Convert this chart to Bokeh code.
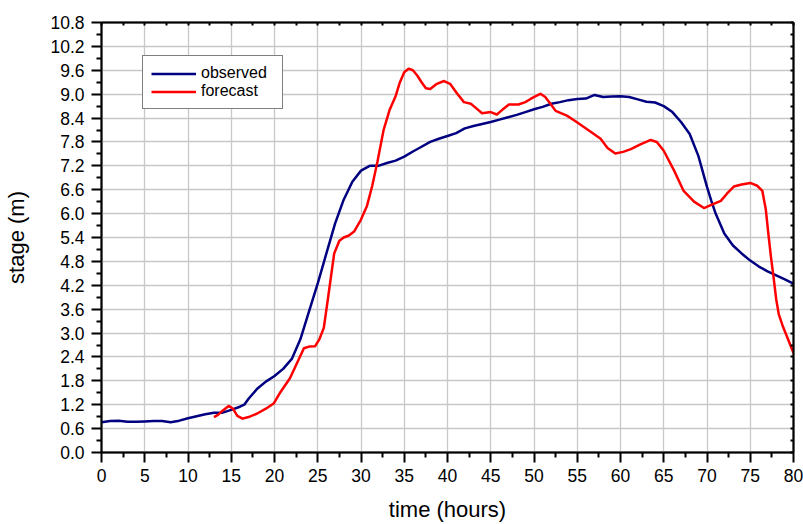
from bokeh.plotting import figure
from bokeh.models import LinearAxis, FixedTicker, PrintfTickFormatter
from bokeh.embed import file_html
from bokeh.resources import INLINE

# ---- data ----
obs_t = [0, 1, 2, 3, 4, 5, 6, 7, 8, 9, 10, 11, 12, 13, 14, 15, 16, 16.5, 17, 18, 19, 20,
         21, 22, 23, 24, 25, 26, 27, 28, 29, 30, 31, 32, 33, 34, 35, 36, 37, 38, 39, 40,
         41, 42, 43, 44, 45, 46, 47, 48, 49, 50, 51, 52, 53, 54, 55, 56, 57, 58, 59, 60,
         61, 62, 63, 64, 65, 66, 67, 68, 69, 70, 70.5, 71, 72, 73, 74, 75, 76, 77, 78, 79, 80]
obs_v = [0.76, 0.79, 0.80, 0.77, 0.77, 0.78, 0.79, 0.79, 0.76, 0.80, 0.86, 0.91, 0.96, 1.00,
         1.00, 1.07, 1.15, 1.20, 1.35, 1.60, 1.78, 1.92, 2.10, 2.35, 2.85, 3.55, 4.25, 5.00,
         5.75, 6.35, 6.80, 7.08, 7.20, 7.20, 7.27, 7.33, 7.43, 7.56, 7.68, 7.80, 7.88, 7.95,
         8.02, 8.14, 8.20, 8.25, 8.30, 8.36, 8.42, 8.48, 8.55, 8.62, 8.68, 8.76, 8.80, 8.85,
         8.88, 8.89, 8.98, 8.93, 8.94, 8.95, 8.93, 8.87, 8.81, 8.79, 8.70, 8.55, 8.30, 8.00,
         7.45, 6.67, 6.32, 6.00, 5.50, 5.20, 5.00, 4.82, 4.67, 4.55, 4.45, 4.35, 4.24]

fc_t = [13, 13.5, 14, 14.7, 15.2, 15.7, 16.3, 17, 18, 19, 19.9, 20.7, 21.8, 22.5, 23.4, 24,
        24.7, 25.2, 25.7, 26.2, 26.9, 27.5, 28, 28.6, 29.2, 30, 30.7, 31.3, 31.9, 32.6, 33.3,
        34, 34.5, 35, 35.5, 36, 36.5, 37, 37.5, 38, 38.7, 39.6, 40.3, 41, 41.9, 42.7, 43.3,
        44, 45, 45.7, 46.3, 47.1, 48.2, 49, 49.6, 50.2, 50.75, 51.3, 51.9, 52.5, 53.8, 54.8,
        55.8, 56.8, 57.7, 58.5, 59.4, 60.3, 61.2, 62.3, 63.5, 64.2, 65, 66.2, 67.3, 68.5,
        69.65, 70.5, 71.6, 72.3, 73.1, 74, 75, 75.8, 76.4, 76.8, 77.1, 77.4, 77.7, 78, 78.3,
        78.8, 79.3, 80]
fc_v = [0.89, 0.95, 1.05, 1.17, 1.10, 0.92, 0.85, 0.89, 0.98, 1.10, 1.23, 1.52, 1.87, 2.20,
        2.62, 2.66, 2.67, 2.85, 3.13, 3.90, 5.00, 5.32, 5.40, 5.45, 5.55, 5.85, 6.20, 6.70,
        7.30, 8.09, 8.60, 8.95, 9.30, 9.55, 9.64, 9.60, 9.47, 9.30, 9.15, 9.13, 9.25, 9.33,
        9.26, 9.05, 8.80, 8.76, 8.65, 8.52, 8.55, 8.49, 8.60, 8.74, 8.74, 8.80, 8.88, 8.95,
        9.01, 8.93, 8.76, 8.58, 8.46, 8.32, 8.17, 8.02, 7.88, 7.65, 7.51, 7.55, 7.62, 7.74,
        7.85, 7.80, 7.58, 7.08, 6.57, 6.30, 6.14, 6.22, 6.32, 6.50, 6.68, 6.73, 6.77, 6.70,
        6.57, 6.10, 5.48, 4.90, 4.39, 3.85, 3.47, 3.15, 2.88, 2.50]

x_ticks = [0, 5, 10, 15, 20, 25, 30, 35, 40, 45, 50, 55, 60, 65, 70, 75, 80]
x_minor = [2.5 + 5 * i for i in range(16)]
y_ticks = [round(0.6 * i, 1) for i in range(19)]
y_minor = [round(0.3 + 0.6 * i, 2) for i in range(18)]

FONT = "Liberation Sans"

p = figure(width=803, height=524, x_range=(0, 80), y_range=(0, 10.8),
           output_backend="svg", toolbar_location=None,
           min_border_left=101, min_border_right=10, min_border_top=22, min_border_bottom=72,
           x_axis_label="time (hours)", y_axis_label="stage (m)")

p.outline_line_color = "black"
p.outline_line_width = 1.5
p.background_fill_color = "white"
p.border_fill_color = "white"

xt = FixedTicker(ticks=x_ticks, minor_ticks=x_minor)
yt = FixedTicker(ticks=y_ticks, minor_ticks=y_minor)

p.xaxis.ticker = xt
p.yaxis.ticker = yt
p.yaxis.formatter = PrintfTickFormatter(format="%.1f")

for ax in (p.xaxis[0], p.yaxis[0]):
    ax.axis_line_color = "black"
    ax.axis_line_width = 2
    ax.major_tick_line_color = "black"
    ax.major_tick_line_width = 2
    ax.minor_tick_line_color = "black"
    ax.minor_tick_line_width = 2
    ax.major_tick_in = 0
    ax.major_tick_out = 10
    ax.minor_tick_in = 0
    ax.minor_tick_out = 5
    ax.major_label_text_font = FONT
    ax.major_label_text_font_size = "17.5px"
    ax.major_label_text_color = "black"
    ax.axis_label_text_font = FONT
    ax.axis_label_text_font_size = "22px"
    ax.axis_label_text_font_style = "normal"
    ax.axis_label_text_color = "black"

p.xaxis.major_label_standoff = 6
p.xaxis.axis_label_standoff = 12
p.yaxis.major_label_standoff = 7
p.yaxis.axis_label_standoff = 18

# top and right frame axes: ticks only (all drawn as minor ticks, so no labels)
top = LinearAxis(ticker=FixedTicker(ticks=[], minor_ticks=sorted(x_ticks + x_minor)))
right = LinearAxis(ticker=FixedTicker(ticks=[], minor_ticks=sorted(y_ticks + y_minor)))
for ax in (top, right):
    ax.axis_line_color = "black"
    ax.axis_line_width = 2
    ax.major_tick_line_color = None
    ax.minor_tick_line_color = "black"
    ax.minor_tick_line_width = 2
    ax.minor_tick_in = 3
    ax.minor_tick_out = 0
    ax.major_tick_in = 0
    ax.major_tick_out = 0
    ax.major_label_standoff = 0
p.add_layout(top, "above")
p.add_layout(right, "right")

p.xgrid.ticker = xt
p.ygrid.ticker = yt
for g in (p.xgrid[0], p.ygrid[0]):
    g.grid_line_color = "#c8c8c8"
    g.grid_line_width = 1.3

p.line(obs_t, obs_v, line_color="#000080", line_width=2.5, line_join="round",
       legend_label="observed")
p.line(fc_t, fc_v, line_color="#ff0000", line_width=2.5, line_join="round",
       legend_label="forecast")

lg = p.legend[0]
lg.location = (41, 343)
lg.margin = 0
lg.padding = 8
lg.spacing = 0
lg.glyph_width = 45
lg.glyph_height = 17
lg.label_height = 17
lg.label_width = 73
lg.label_standoff = 5
lg.label_text_font = FONT
lg.label_text_font_size = "16px"
lg.label_text_color = "black"
lg.border_line_color = "black"
lg.border_line_width = 1.5
lg.background_fill_color = "white"
lg.background_fill_alpha = 1.0

open("out.html", "w").write(file_html(p, INLINE))
